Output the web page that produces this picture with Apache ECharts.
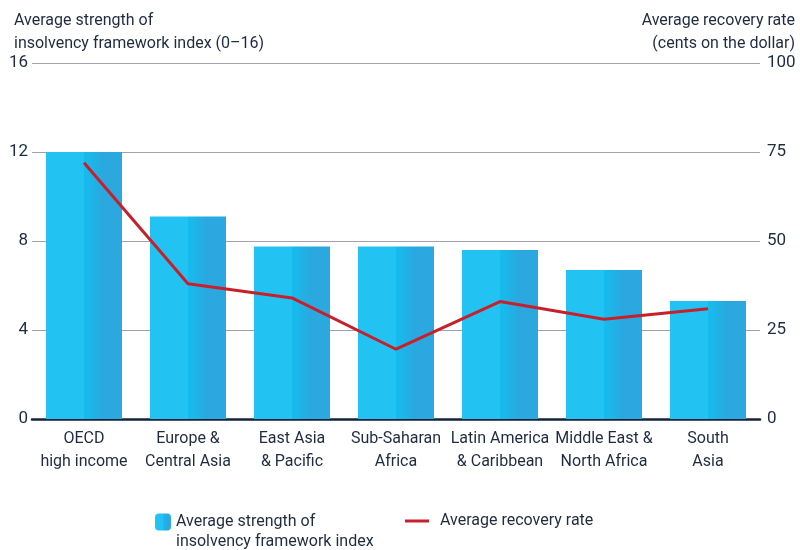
<!DOCTYPE html>
<html>
<head>
<meta charset="utf-8">
<script src="https://cdn.jsdelivr.net/npm/echarts@6/dist/echarts.min.js"></script>
<style>
  html, body { margin: 0; padding: 0; background: #fff; }
  #chart { width: 800px; height: 550px; }
</style>
</head>
<body>
<div id="chart"></div>
<script>
const regions = [
  'OECD\nhigh income',
  'Europe &\nCentral Asia',
  'East Asia\n& Pacific',
  'Sub-Saharan\nAfrica',
  'Latin America\n& Caribbean',
  'Middle East &\nNorth Africa',
  'South\nAsia'
]
const strengthIndex = [12.0, 9.1, 7.75, 7.75, 7.6, 6.7, 5.3]
const recoveryRate = [72, 38, 34, 19.6, 33, 28, 31]

const barName = 'Average strength of\ninsolvency framework index'
const lineName = 'Average recovery rate'

const textColor = '#1f2b40'
const font = 'Roboto'

const chart = echarts.init(document.getElementById('chart'))

const barColor = new echarts.graphic.LinearGradient(0, 0, 1, 0, [
  { offset: 0, color: '#22c3f2' },
  { offset: 0.5, color: '#22c3f2' },
  { offset: 0.5, color: '#14bdee' },
  { offset: 0.75, color: '#2aa8df' },
  { offset: 1, color: '#2aa8df' }
])

chart.setOption({
  animation: false,
  textStyle: { fontFamily: font, color: textColor },
  title: [
    {
      text: 'Average strength of\ninsolvency framework index (0–16)',
      left: 9,
      top: 4,
      textStyle: { fontSize: 16, fontWeight: 'normal', color: textColor, lineHeight: 23, fontFamily: font }
    },
    {
      text: 'Average recovery rate\n(cents on the dollar)',
      left: 'right',
      top: 4,
      textStyle: { fontSize: 16, fontWeight: 'normal', color: textColor, lineHeight: 23, fontFamily: font }
    }
  ],
  legend: [
    {
      // leading blank line keeps the icon level with the first text line
      data: [barName],
      formatter: (name) => '\n' + name,
      left: 155,
      top: 492,
      padding: 0,
      itemWidth: 16,
      itemHeight: 17,
      selectedMode: false,
      textStyle: { fontSize: 16, color: textColor, lineHeight: 20, fontFamily: font }
    },
    {
      data: [{ name: lineName, icon: 'rect' }],
      left: 405,
      top: 513,
      padding: 0,
      itemWidth: 24,
      itemHeight: 3,
      selectedMode: false,
      textStyle: { fontSize: 16, color: textColor, padding: [0, 0, 0, 6], fontFamily: font }
    }
  ],
  grid: { left: 32, right: 40, top: 63, bottom: 131 },
  xAxis: {
    type: 'category',
    data: regions,
    axisTick: { show: false },
    axisLine: { lineStyle: { color: '#15233d', width: 2.5 } },
    axisLabel: { interval: 0, margin: 8, fontSize: 16, lineHeight: 23, color: textColor }
  },
  yAxis: [
    {
      type: 'value',
      min: 0,
      max: 16,
      interval: 4,
      axisLine: { show: false },
      axisTick: { show: false },
      axisLabel: { fontSize: 17, color: textColor, margin: 4 },
      splitLine: { lineStyle: { color: '#a3a1b0', width: 1 } }
    },
    {
      type: 'value',
      min: 0,
      max: 100,
      interval: 25,
      axisLine: { show: false },
      axisTick: { show: false },
      axisLabel: { fontSize: 17, color: textColor, margin: 7 },
      splitLine: { show: false }
    }
  ],
  series: [
    {
      name: barName,
      type: 'bar',
      data: strengthIndex,
      barWidth: 76,
      itemStyle: { color: barColor }
    },
    {
      name: lineName,
      type: 'line',
      yAxisIndex: 1,
      data: recoveryRate,
      symbol: 'none',
      lineStyle: { color: '#c8202a', width: 3 },
      itemStyle: { color: '#c8202a' }
    }
  ]
})
</script>
</body>
</html>
